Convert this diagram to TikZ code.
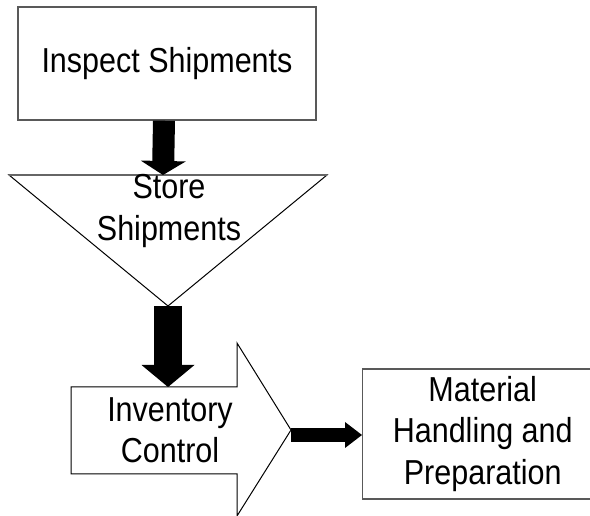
\documentclass[tikz,border=0pt]{standalone}
\usepackage{fontspec}
\setmainfont[FakeStretch=0.88]{Liberation Sans}
\usepackage{tikz}
\usetikzlibrary{arrows.meta, positioning, calc}
\tikzset{
        x=0.75pt, y=-0.75pt, % one unit is one pixel of the sketch
        every node/.style={font=\fontsize{26}{31}\selectfont, align=center},
    }
\tikzstyle{stepbox}=[draw=black!65, line width=1.1pt, inner sep=0pt]
\tikzstyle{outline}=[draw=black, line width=0.75pt, fill=white]

\begin{document}
\begin{tikzpicture}
    \useasboundingbox (0,0) rectangle (590,516);
    % inspect
    \node[stepbox, minimum width=223.5pt, minimum height=84.75pt] (inspect) at (167,63.5) {Inspect Shipments};
    % store (triangle)
    \coordinate (storeL) at (9,175);
    \coordinate (storeR) at (327,175);
    \coordinate (storeB) at (168,306);
    \draw[outline] (storeL) -- (storeR) -- (storeB) -- cycle;
    \draw[draw=black!60, line width=1.1pt] (storeL) -- (storeR);
    \node (store) at (169,211) {Store\\Shipments};
    % inventory control (block arrow)
    \draw[outline] (71,387) -- (237,387) -- (237,343) -- (291,430) -- (237,516)
        -- (237,474) -- (71,474) -- cycle;
    \coordinate (invtip) at (291,435);
    \coordinate (invtop) at (168,387);
    \node (inventory) at (170,430) {Inventory\\Control};
    % material handling
    \node[stepbox, minimum width=180pt, minimum height=97.5pt, anchor=west] (prep) at (362,434) {Material\\Handling and\\Preparation};
    % arrows
    \draw[line width=16.5pt, -{Triangle[length=10.5pt, width=33.75pt, line width=0pt]}]
        ([xshift=-2.25pt]inspect.south) -- ([xshift=-3pt]inspect.south |- storeL);
    \draw[line width=21pt, -{Triangle[length=16.5pt, width=39.75pt, line width=0pt]}]
        (storeB) -- (invtop);
    \draw[line width=10.5pt, -{Triangle[length=12.75pt, width=19.5pt, line width=0pt]}]
        (invtip) -- (invtip -| prep.west);
\end{tikzpicture}
\end{document}
